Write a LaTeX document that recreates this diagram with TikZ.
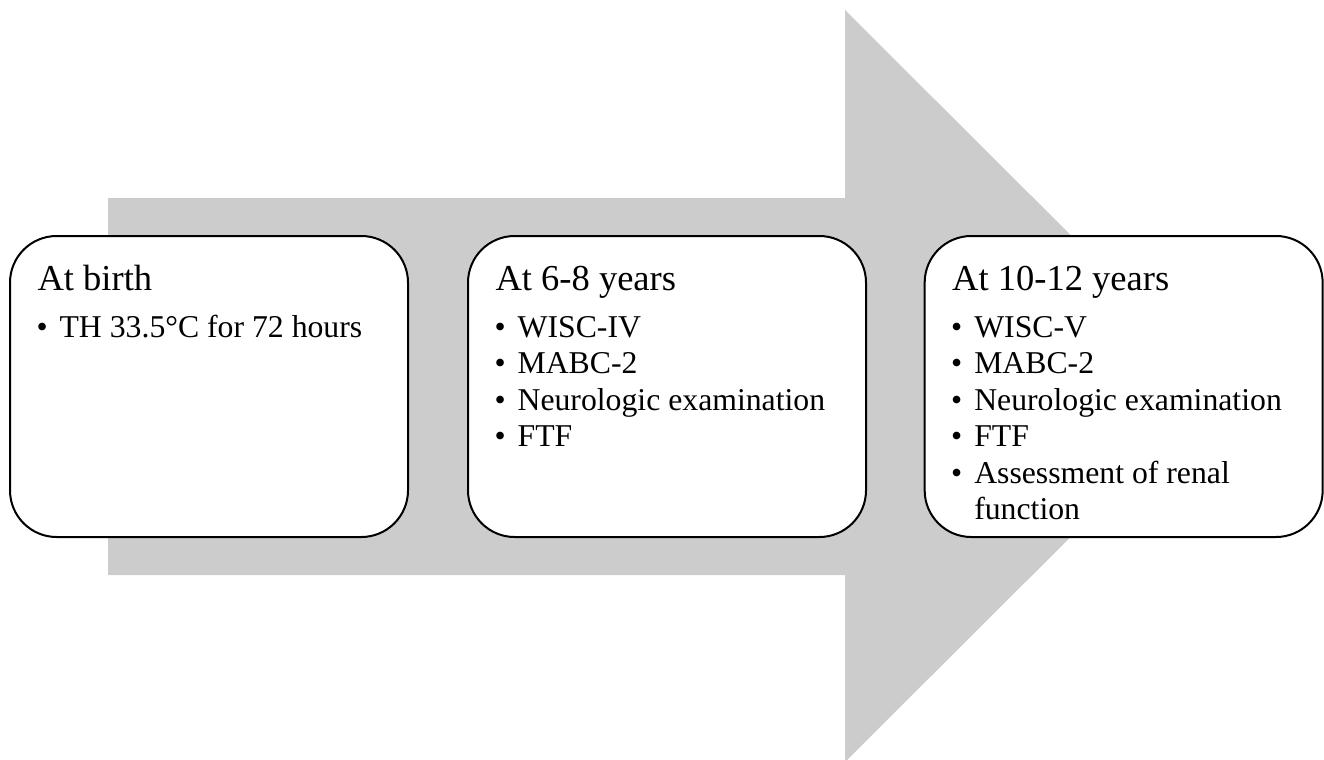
\documentclass[tikz,border=0pt]{standalone}
\usepackage{fontspec}
\setmainfont{Liberation Serif}
\usetikzlibrary{positioning,calc}

\definecolor{arrowgray}{RGB}{204,204,204}
\newcommand{\stagelist}[1]{\begin{tabular}[t]{@{}l@{\hspace{9pt}}l@{}}#1\end{tabular}}

\tikzset{every picture/.style={line width=0.75pt}}
\tikzset{
  stagebox/.style={draw, line width=1.5pt, rounded corners=35pt, fill=white,
    minimum width=298.5pt, minimum height=225.75pt, inner sep=0pt},
  stagetitle/.style={anchor=base west, inner sep=0pt, font=\fontsize{27.4pt}{33pt}\selectfont},
  stageitems/.style={anchor=base west, inner sep=0pt, font=\fontsize{23.8pt}{27.4pt}\selectfont},
}

\begin{document}
\begin{tikzpicture}[x=0.75pt,y=0.75pt,yscale=-1,xscale=1]
\useasboundingbox (0,0) rectangle (1324,760);

%Shape: Big arrow
\fill[arrowgray] (108,198) -- (845,198) -- (845,10) -- (1222,386) -- (845,762) -- (845,575) -- (108,575) -- cycle;

%Rounded boxes
\node[stagebox] (birth) at (209,386.5) {};
\node[stagebox, right=43.5pt of birth] (early) {};
\node[stagebox, right=42.5pt of early] (late) {};

% Text Node
\node[stagetitle] (birth-t) at ($(birth.north west)+(28,55)$) {At birth};
\node[stageitems] (birth-l) at ($(birth.north west)+(27,102)$) {\stagelist{%
  \textbullet & TH 33.5°C for 72 hours}};

% Text Node
\node[stagetitle] (early-t) at ($(early.north west)+(28,55)$) {At 6-8 years};
\node[stageitems] (early-l) at ($(early.north west)+(27,102)$) {\stagelist{%
  \textbullet & WISC-IV\\
  \textbullet & MABC-2\\
  \textbullet & Neurologic examination\\
  \textbullet & FTF}};

% Text Node
\node[stagetitle] (late-t) at ($(late.north west)+(28,55)$) {At 10-12 years};
\node[stageitems] (late-l) at ($(late.north west)+(27,102)$) {\stagelist{%
  \textbullet & WISC-V\\
  \textbullet & MABC-2\\
  \textbullet & Neurologic examination\\
  \textbullet & FTF\\
  \textbullet & Assessment of renal\\
              & function}};

\end{tikzpicture}
\end{document}
